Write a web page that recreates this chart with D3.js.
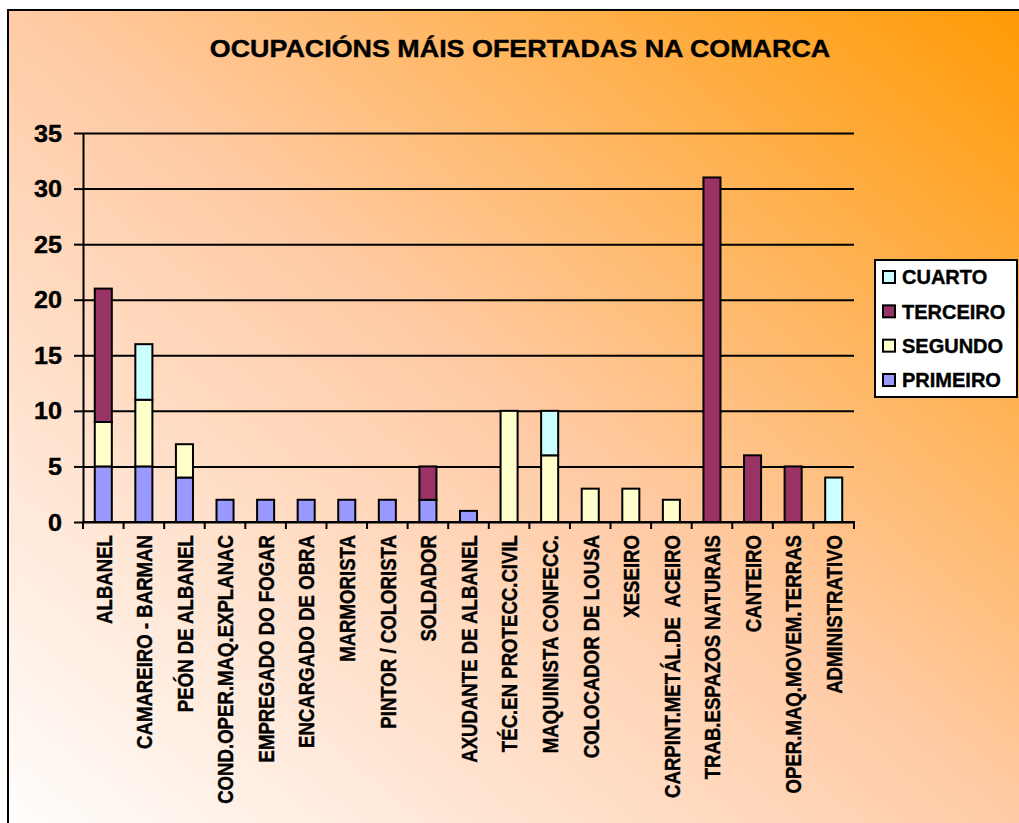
<!DOCTYPE html>
<html>
<head>
<meta charset="utf-8">
<script src="https://cdn.jsdelivr.net/npm/d3@7"></script>
<style>
  body { margin: 0; background: #fff; }
  svg { display: block; font-family: "Liberation Sans", Arial, sans-serif; font-weight: bold; }
  svg text { stroke: #000; stroke-width: 0.4; }
</style>
</head>
<body>
<svg id="chart" width="1019" height="823"></svg>
<script>
// occupations, in the order of the x axis
const categories = [
  "ALBANEL", "CAMAREIRO - BARMAN", "PEÓN DE ALBANEL", "COND.OPER.MAQ.EXPLANAC",
  "EMPREGADO DO FOGAR", "ENCARGADO DE OBRA", "MARMORISTA", "PINTOR / COLORISTA",
  "SOLDADOR", "AXUDANTE DE ALBANEL", "TÉC.EN PROTECC.CIVIL", "MAQUINISTA CONFECC.",
  "COLOCADOR DE LOUSA", "XESEIRO", "CARPINT.METÁL.DE  ACEIRO", "TRAB.ESPAZOS NATURAIS",
  "CANTEIRO", "OPER.MAQ.MOVEM.TERRAS", "ADMINISTRATIVO"
];
const seriesNames = ["PRIMEIRO", "SEGUNDO", "TERCEIRO", "CUARTO"];
const primeiro = [5, 5, 4, 2, 2, 2, 2, 2, 2, 1, 0, 0, 0, 0, 0, 0, 0, 0, 0];
const segundo  = [4, 6, 3, 0, 0, 0, 0, 0, 0, 0, 10, 6, 3, 3, 2, 0, 0, 0, 0];
const terceiro = [12, 0, 0, 0, 0, 0, 0, 0, 3, 0, 0, 0, 0, 0, 0, 31, 6, 5, 0];
const cuarto   = [0, 5, 0, 0, 0, 0, 0, 0, 0, 0, 0, 4, 0, 0, 0, 0, 0, 0, 4];
const yTicks = [0, 5, 10, 15, 20, 25, 30, 35];
const title = "OCUPACIÓNS MÁIS OFERTADAS NA COMARCA";

const colors = {PRIMEIRO: "#9999FF", SEGUNDO: "#FFFFCC", TERCEIRO: "#993366", CUARTO: "#CCFFFF"};

const rows = categories.map((c, i) => ({
  cat: c, PRIMEIRO: primeiro[i], SEGUNDO: segundo[i], TERCEIRO: terceiro[i], CUARTO: cuarto[i]
}));

const svg = d3.select("#chart");

// background gradient, orange at top right fading to white at bottom left
const defs = svg.append("defs");
const grad = defs.append("linearGradient").attr("id", "bg")
  .attr("x1", 1).attr("y1", 0).attr("x2", 0).attr("y2", 1);
grad.append("stop").attr("offset", 0).attr("stop-color", "#FF9900");
grad.append("stop").attr("offset", 0.5).attr("stop-color", "#FFCBA6");
grad.append("stop").attr("offset", 1).attr("stop-color", "#FFFFFF");

svg.append("rect")
  .attr("x", 8).attr("y", 10).attr("width", 1040).attr("height", 840)
  .attr("fill", "url(#bg)").attr("stroke", "#000").attr("stroke-width", 2);

const x = d3.scaleBand()
  .domain(categories)
  .range([83, 854])
  .paddingInner(0.58)
  .paddingOuter(0.29);

const y = d3.scaleLinear()
  .domain([0, 35])
  .range([522, 133]);

// gridlines
svg.append("g")
  .attr("transform", "translate(83,0)")
  .call(d3.axisLeft(y).tickValues(yTicks).tickSize(-771).tickFormat(""))
  .call(g => g.select(".domain").remove())
  .call(g => g.selectAll("line").attr("stroke", "#000").attr("stroke-width", 2));

// y axis with ticks and labels
svg.append("g")
  .attr("transform", "translate(83,0)")
  .call(d3.axisLeft(y).tickValues(yTicks).tickSize(9).tickSizeOuter(0).tickPadding(0).tickFormat(""))
  .call(g => g.select(".domain").attr("stroke", "#000").attr("stroke-width", 2))
  .call(g => g.selectAll("line").attr("stroke", "#000").attr("stroke-width", 2));

svg.append("g").selectAll("text")
  .data(yTicks)
  .join("text")
  .attr("transform", d => `translate(62,${y(d)}) scale(1.05,1)`)
  .attr("text-anchor", "end")
  .attr("dy", "0.36em")
  .attr("font-size", 24)
  .text(d => d);

// stacked bars
const stacked = d3.stack().keys(seriesNames)(rows);
svg.append("g")
  .selectAll("g")
  .data(stacked)
  .join("g")
  .attr("fill", d => colors[d.key])
  .selectAll("rect")
  .data(d => d.filter(s => s[1] - s[0] > 0))
  .join("rect")
  .attr("x", d => x(d.data.cat))
  .attr("y", d => y(d[1]))
  .attr("width", x.bandwidth())
  .attr("height", d => y(d[0]) - y(d[1]))
  .attr("stroke", "#000")
  .attr("stroke-width", 2);

// x axis: line plus ticks between categories
const bounds = categories.map(c => x(c) - x.step() * x.paddingInner() / 2).concat([854]);
bounds[0] = 83;
const xAxisG = svg.append("g");
xAxisG.append("line")
  .attr("x1", 82).attr("x2", 855).attr("y1", y(0)).attr("y2", y(0))
  .attr("stroke", "#000").attr("stroke-width", 2);
xAxisG.selectAll("line.tick")
  .data(bounds)
  .join("line")
  .attr("class", "tick")
  .attr("x1", d => d).attr("x2", d => d)
  .attr("y1", y(0)).attr("y2", y(0) + 7)
  .attr("stroke", "#000").attr("stroke-width", 2);

// rotated category labels
svg.append("g").selectAll("text")
  .data(categories)
  .join("text")
  .attr("transform", d => `translate(${x(d) + x.bandwidth() / 2},535) rotate(-90) scale(0.81,1)`)
  .attr("text-anchor", "end")
  .attr("dy", "0.36em")
  .attr("font-size", 23)
  .style("white-space", "pre")
  .text(d => d);

// title
svg.append("text")
  .attr("transform", "translate(520,57) scale(1.12,1)")
  .attr("text-anchor", "middle")
  .attr("font-size", 24)
  .text(title);

// legend, top entry is the last series
const legend = svg.append("g");
legend.append("rect")
  .attr("x", 875).attr("y", 260).attr("width", 142).attr("height", 137)
  .attr("fill", "#fff").attr("stroke", "#000").attr("stroke-width", 2);
const legendItems = seriesNames.slice().reverse();
const ly = d3.scalePoint().domain(legendItems).range([277, 380]);
const li = legend.selectAll("g.item")
  .data(legendItems)
  .join("g")
  .attr("class", "item")
  .attr("transform", d => `translate(883,${ly(d)})`);
li.append("rect")
  .attr("x", 0).attr("y", -6).attr("width", 12).attr("height", 12)
  .attr("fill", d => colors[d]).attr("stroke", "#000").attr("stroke-width", 2);
li.append("text")
  .attr("transform", "translate(19,0)")
  .attr("dy", "0.36em")
  .attr("font-size", 20)
  .text(d => d);
</script>
</body>
</html>
